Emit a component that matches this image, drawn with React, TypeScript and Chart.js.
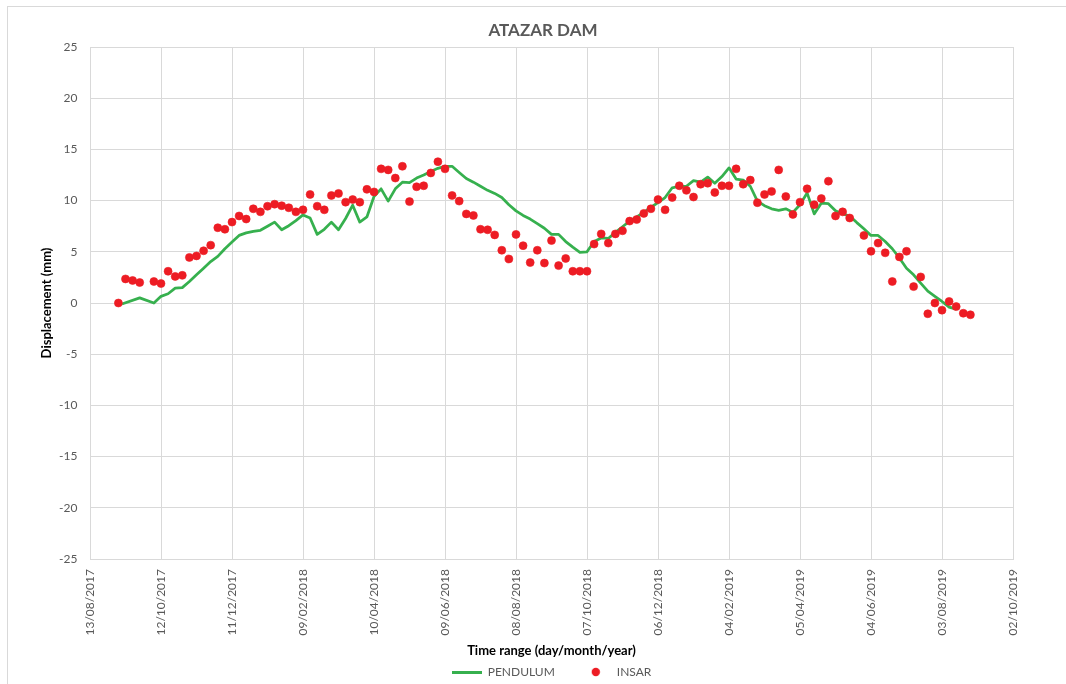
import React, { useEffect, useRef } from 'react';
import { Chart, registerables } from 'chart.js';

Chart.register(...registerables);

// ---- data (x values are days after 13/08/2017) ----
const axisStartUTC = Date.UTC(2017, 7, 13);
const xAxisMaxDays = 780;
const xTickStepDays = 60;
const yTicksMin = -25;
const yTicksMax = 25;
const yTickStep = 5;

const seriesNames = ['PENDULUM', 'INSAR'];

const pendulumDays = [
  27, 42, 54, 60, 66, 72, 78, 84, 90, 96, 102, 108, 114, 120, 126, 132, 138, 144, 150, 156,
  162, 168, 174, 180, 186, 192, 198, 204, 210, 216, 222, 228, 234, 240, 246, 252, 258, 264, 270, 276,
  282, 288, 294, 300, 306, 312, 318, 324, 330, 336, 342, 348, 354, 360, 366, 372, 378, 384, 390, 396,
  402, 408, 414, 420, 426, 432, 438, 444, 450, 456, 462, 468, 474, 480, 486, 492, 498, 504, 510, 516,
  522, 528, 534, 540, 546, 552, 558, 564, 570, 576, 582, 588, 594, 600, 606, 612, 618, 624, 630, 636,
  642, 648, 654, 660, 666, 672, 678, 684, 690, 696, 702, 708, 714, 720, 726, 732,
];
const pendulumValues = [
  -0.1, 0.5, 0.0, 0.65, 0.9, 1.45, 1.5, 2.1, 2.75, 3.4, 4.05, 4.55, 5.3, 5.95, 6.6, 6.85, 7.0, 7.1, 7.5, 7.9,
  7.15, 7.55, 8.05, 8.6, 8.3, 6.7, 7.2, 7.9, 7.15, 8.25, 9.55, 7.9, 8.4, 10.4, 11.15, 9.95, 11.15, 11.8, 11.75, 12.2,
  12.5, 12.85, 13.15, 13.35, 13.35, 12.75, 12.15, 11.8, 11.4, 11.0, 10.7, 10.3, 9.6, 9.0, 8.55, 8.2, 7.75, 7.3, 6.7, 6.7,
  6.0, 5.45, 4.95, 5.0, 6.0, 6.35, 6.3, 6.9, 7.45, 8.0, 8.4, 8.85, 9.35, 9.8, 10.3, 11.25, 11.4, 11.4, 11.95, 11.8,
  12.3, 11.7, 12.35, 13.2, 12.1, 12.0, 11.4, 9.95, 9.5, 9.2, 9.05, 9.2, 8.85, 9.6, 10.75, 8.7, 9.75, 9.7, 9.0, 8.7,
  8.5, 7.85, 7.25, 6.6, 6.6, 6.0, 5.3, 4.4, 3.4, 2.75, 1.95, 1.15, 0.65, 0.15, -0.4, -0.6,
];

const insarDays = [
  24, 30, 36, 42, 54, 60, 66, 72, 78, 84, 90, 96, 102, 108, 114, 120, 126, 132, 138, 144,
  150, 156, 162, 168, 174, 180, 186, 192, 198, 204, 210, 216, 222, 228, 234, 240, 246, 252, 258, 264,
  270, 276, 282, 288, 294, 300, 306, 312, 318, 324, 330, 336, 342, 348, 354, 360, 366, 372, 378, 384,
  390, 396, 402, 408, 414, 420, 426, 432, 438, 444, 450, 456, 462, 468, 474, 480, 486, 492, 498, 504,
  510, 516, 522, 528, 534, 540, 546, 552, 558, 564, 570, 576, 582, 588, 594, 600, 606, 612, 618, 624,
  630, 636, 642, 654, 660, 666, 672, 678, 684, 690, 696, 702, 708, 714, 720, 726, 732, 738, 744,
];
const insarValues = [
  0.0, 2.35, 2.2, 2.0, 2.1, 1.9, 3.1, 2.6, 2.7, 4.45, 4.6, 5.1, 5.65, 7.35, 7.2, 7.9, 8.5, 8.2, 9.2, 8.9,
  9.45, 9.65, 9.5, 9.3, 8.9, 9.1, 10.6, 9.45, 9.1, 10.5, 10.7, 9.85, 10.1, 9.85, 11.1, 10.85, 13.1, 13.0, 12.2, 13.35,
  9.9, 11.35, 11.45, 12.7, 13.8, 13.1, 10.5, 9.95, 8.7, 8.55, 7.2, 7.15, 6.65, 5.15, 4.3, 6.7, 5.6, 3.95, 5.15, 3.9,
  6.1, 3.65, 4.35, 3.1, 3.1, 3.1, 5.75, 6.75, 5.85, 6.75, 7.05, 8.0, 8.15, 8.75, 9.2, 10.1, 9.1, 10.3, 11.45, 11.0,
  10.35, 11.6, 11.7, 10.8, 11.45, 11.45, 13.1, 11.6, 12.0, 9.8, 10.6, 10.9, 13.0, 10.4, 8.65, 9.85, 11.15, 9.6, 10.2, 11.9,
  8.5, 8.9, 8.3, 6.6, 5.05, 5.85, 4.9, 2.1, 4.5, 5.05, 1.6, 2.55, -1.05, 0.0, -0.7, 0.15, -0.35, -1.0, -1.15,
];

const chartTitle = 'ATAZAR DAM';
const xTitle = 'Time range (day/month/year)';
const yTitle = 'Displacement (mm)';

// ---- styles ----
const FONT = 'Lato, "Open Sans", sans-serif';
const GREEN = '#36B04E';
const RED = '#ED1C24';
const GRID = '#D9D9D9';
const TEXT_GRAY = '#595959';

function formatDay(v: number): string {
  const d = new Date(axisStartUTC + v * 86400000);
  const dd = String(d.getUTCDate()).padStart(2, '0');
  const mm = String(d.getUTCMonth() + 1).padStart(2, '0');
  return `${dd}/${mm}/${d.getUTCFullYear()}`;
}

export default function App() {
  const ref = useRef<HTMLCanvasElement>(null);

  useEffect(() => {
    const canvas = ref.current;
    if (!canvas) return;

    const lineImg = document.createElement('canvas');
    lineImg.width = 30;
    lineImg.height = 3;
    const lctx = lineImg.getContext('2d')!;
    lctx.fillStyle = GREEN;
    lctx.fillRect(0, 0, 30, 3);

    const dotImg = document.createElement('canvas');
    dotImg.width = 10;
    dotImg.height = 10;
    const dctx = dotImg.getContext('2d')!;
    dctx.fillStyle = RED;
    dctx.beginPath();
    dctx.arc(5, 5, 4.2, 0, Math.PI * 2);
    dctx.fill();

    Chart.defaults.font.family = FONT;

    const chart = new Chart(canvas, {
      type: 'scatter',
      data: {
        datasets: [
          {
            label: seriesNames[0],
            type: 'line',
            data: pendulumDays.map((d, i) => ({ x: d, y: pendulumValues[i] })),
            borderColor: GREEN,
            backgroundColor: GREEN,
            borderWidth: 2.75,
            pointRadius: 0,
            fill: false,
            tension: 0,
            borderJoinStyle: 'round',
            order: 2,
          } as any,
          {
            label: seriesNames[1],
            type: 'scatter',
            data: insarDays.map((d, i) => ({ x: d, y: insarValues[i] })),
            backgroundColor: RED,
            borderColor: RED,
            pointRadius: 4,
            pointBorderWidth: 0.6,
            order: 1,
          } as any,
        ],
      },
      options: {
        animation: false,
        responsive: false,
        maintainAspectRatio: false,
        events: [],
        layout: { padding: { left: 30, right: 10, top: 0, bottom: 0 } },
        plugins: {
          title: {
            display: true,
            text: chartTitle,
            color: TEXT_GRAY,
            font: { family: FONT, size: 17, weight: 'bold' },
            padding: { top: 20.5, bottom: 6.1 },
          },
          legend: {
            position: 'bottom',
            fullSize: false,
            labels: {
              usePointStyle: true,
              pointStyleWidth: 30,
              padding: 26,
              color: TEXT_GRAY,
              font: { family: FONT, size: 12 },
              generateLabels: () => [
                {
                  text: seriesNames[0],
                  fillStyle: GREEN,
                  strokeStyle: GREEN,
                  lineWidth: 0,
                  pointStyle: lineImg,
                  hidden: false,
                  datasetIndex: 0,
                  fontColor: TEXT_GRAY,
                } as any,
                {
                  text: seriesNames[1],
                  fillStyle: RED,
                  strokeStyle: RED,
                  lineWidth: 0,
                  pointStyle: dotImg,
                  hidden: false,
                  datasetIndex: 1,
                  fontColor: TEXT_GRAY,
                } as any,
              ],
            },
          },
          tooltip: { enabled: false },
        },
        scales: {
          x: {
            type: 'linear',
            min: 0,
            max: xAxisMaxDays,
            afterFit: (s: any) => {
              s.height = 81;
            },
            grid: { color: GRID, lineWidth: 1, drawTicks: false },
            border: { color: GRID, width: 1 },
            ticks: {
              stepSize: xTickStepDays,
              autoSkip: false,
              maxRotation: 90,
              minRotation: 90,
              padding: 10,
              color: TEXT_GRAY,
              font: { family: FONT, size: 12 },
              callback: (v: any) => formatDay(Number(v)),
            },
            title: {
              display: true,
              text: xTitle,
              color: '#000000',
              font: { family: FONT, size: 13, weight: 'bold' },
              padding: { top: 0, bottom: -18.5 },
            },
          },
          y: {
            type: 'linear',
            min: yTicksMin,
            max: yTicksMax,
            afterFit: (s: any) => {
              s.width = 60;
            },
            grid: { color: GRID, lineWidth: 1, drawTicks: false },
            border: { color: GRID, width: 1 },
            ticks: {
              stepSize: yTickStep,
              padding: 12.5,
              color: TEXT_GRAY,
              font: { family: FONT, size: 12 },
            },
            title: {
              display: true,
              text: yTitle,
              color: '#000000',
              font: { family: FONT, size: 13, weight: 'bold' },
              padding: { top: 9.5, bottom: 0 },
            },
          },
          yR: {
            type: 'linear',
            position: 'right',
            display: true,
            min: 0,
            max: 1,
            afterFit: (s: any) => {
              s.width = 43;
            },
            ticks: { display: false },
            grid: { display: false },
            border: { display: false },
          },
        },
      } as any,
    });

    return () => chart.destroy();
  }, []);

  return (
    <div
      style={{
        position: 'fixed',
        left: 0,
        top: 0,
        width: 1066,
        height: 684,
        overflow: 'hidden',
        background: '#ffffff',
      }}
    >
      <div
        style={{
          position: 'absolute',
          left: 7,
          top: 6,
          width: 1100,
          height: 720,
          border: `1px solid ${GRID}`,
        }}
      />
      <canvas
        ref={ref}
        width={1066}
        height={688}
        style={{ position: 'absolute', left: 0, top: 0, width: 1066, height: 688 }}
      />
    </div>
  );
}
